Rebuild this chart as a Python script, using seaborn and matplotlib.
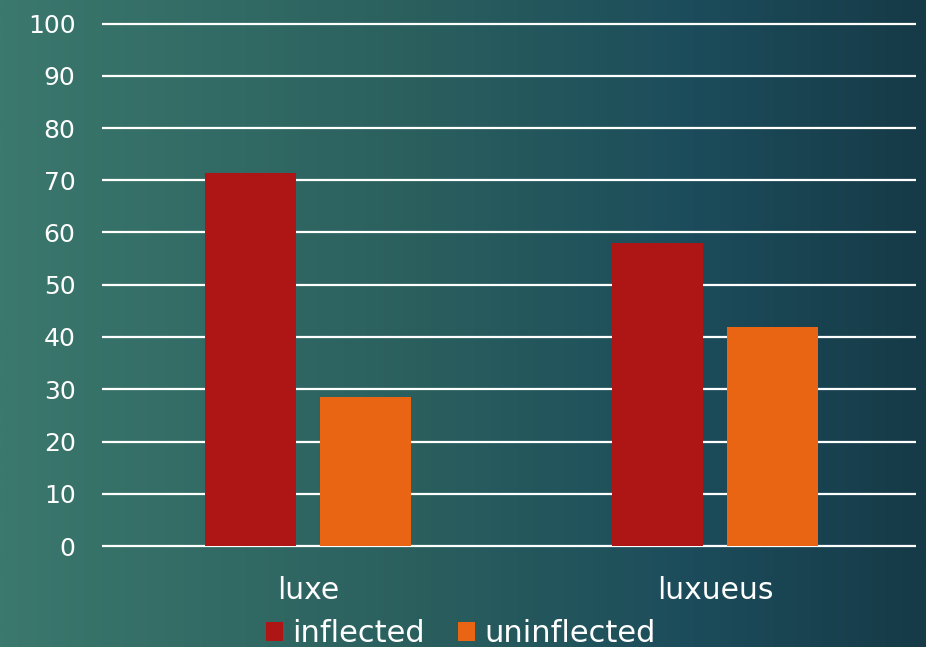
import numpy as np
import pandas as pd
import matplotlib
matplotlib.use("Agg")
import matplotlib.pyplot as plt
from matplotlib.colors import LinearSegmentedColormap
from matplotlib.patches import Patch
import seaborn as sns

categories = ["luxe", "luxueus"]
series_names = ["inflected", "uninflected"]
inflected = [71.4, 58.0]
uninflected = [28.6, 42.0]
y_ticks = [0, 10, 20, 30, 40, 50, 60, 70, 80, 90, 100]
colors = ["#ae1515", "#e96413"]

df = pd.DataFrame({
    "word": categories * 2,
    "form": [series_names[0]] * 2 + [series_names[1]] * 2,
    "pct": inflected + uninflected,
})

sns.set_theme(style="white")
plt.rcParams["font.family"] = ["DejaVu Sans"]

W, H = 926, 647
fig = plt.figure(figsize=(W / 100, H / 100), dpi=100)

# background gradient
bg = fig.add_axes([0, 0, 1, 1], zorder=-10)
cmap = LinearSegmentedColormap.from_list(
    "bg", [(0.0, "#3b786d"), (0.45, "#2a5f5e"), (0.75, "#1c4c5b"), (1.0, "#163a47")])
grad = np.linspace(0, 1, 512)[None, :]
bg.imshow(grad, aspect="auto", cmap=cmap, extent=[0, 1, 0, 1])
bg.set_axis_off()

ymin, ymax = -0.4, 100.4
ppu = (546 - 23.5) / 100.0
top_px = 23.5 - 0.4 * ppu
bot_px = 546 + 0.4 * ppu
ax = fig.add_axes([102 / W, 1 - bot_px / H, (916 - 102) / W, (bot_px - top_px) / H])
ax.patch.set_alpha(0)

sns.barplot(data=df, x="word", y="pct", hue="form", palette=colors,
            width=0.565, gap=0.209, ax=ax, legend=False, saturation=1,
            edgecolor="none", linewidth=0)

ax.set_ylim(ymin, ymax)
ax.set_xlim(-0.507, 1.493)
ax.set_yticks(y_ticks)
ax.set_yticklabels([str(t) for t in y_ticks])
ax.yaxis.grid(True, color="white", linewidth=1.6)
ax.set_axisbelow(True)
for s in ax.spines.values():
    s.set_visible(False)
ax.tick_params(axis="both", length=0, colors="white")
ax.tick_params(axis="y", pad=19, labelsize=18)
ax.tick_params(axis="x", pad=20, labelsize=21.5)
ax.set_xlabel("")
ax.set_ylabel("")

handles = [Patch(facecolor=c, edgecolor="none") for c in colors]
fig.legend(handles, series_names, loc="center", bbox_to_anchor=(461 / W, 1 - 634 / H),
           ncol=2, frameon=False, fontsize=22, labelcolor="white",
           handlelength=0.55, handleheight=0.55, handletextpad=0.3, columnspacing=1.1,
           borderpad=0.0)

fig.savefig("out.png", dpi=100)
